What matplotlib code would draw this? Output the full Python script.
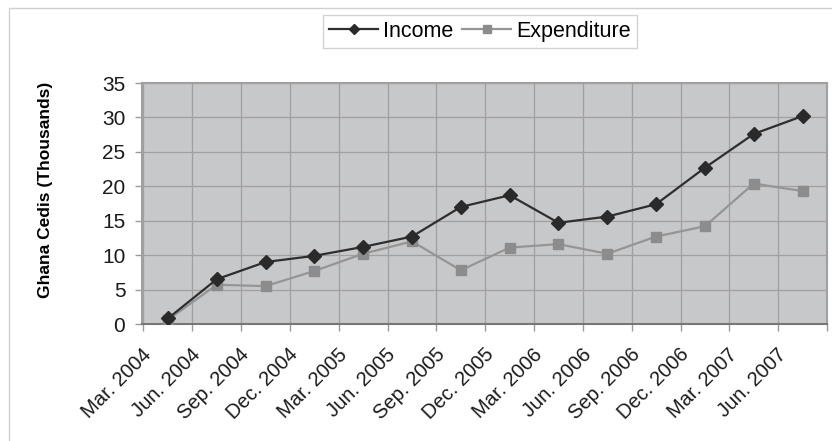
import matplotlib
matplotlib.use("Agg")
import matplotlib.pyplot as plt
import matplotlib.patches as mpatches
import numpy as np

plt.rcParams['font.family'] = ['Liberation Sans', 'DejaVu Sans']

# data
quarters = ['Mar. 2004', 'Jun. 2004', 'Sep. 2004', 'Dec. 2004', 'Mar. 2005',
            'Jun. 2005', 'Sep. 2005', 'Dec. 2005', 'Mar. 2006', 'Jun. 2006',
            'Sep. 2006', 'Dec. 2006', 'Mar. 2007', 'Jun. 2007']
income = [0.8, 6.5, 9.0, 9.9, 11.2, 12.7, 17.0, 18.7, 14.7, 15.6, 17.4, 22.7, 27.6, 30.2]
expenditure = [0.6, 5.7, 5.5, 7.7, 10.2, 12.0, 7.8, 11.1, 11.6, 10.2, 12.7, 14.2, 20.4, 19.3]

W, H = 832, 441
fig = plt.figure(figsize=(W / 100, H / 100), dpi=100)

# outer chart border (light gray)
fig.patches.append(mpatches.Rectangle((9 / W, -0.05), 1.2, 1 - 8 / H + 0.05,
                                      transform=fig.transFigure, fill=False,
                                      edgecolor='#d0d0d0', linewidth=1.0))

ax = fig.add_axes([142 / W, 1 - 324 / H, (827 - 142) / W, (324 - 83) / H])
ax.set_facecolor('#c7c8ca')

x = np.arange(len(quarters)) + 0.5
ax.plot(x, income, color='#2e2e2e', lw=1.6, marker='D', ms=7,
        mfc='#2a2a2a', mec='#2a2a2a', label='Income', zorder=4)
ax.plot(x, expenditure, color='#959595', lw=1.6, marker='s', ms=7.5,
        mfc='#8c8c8c', mec='#8c8c8c', label='Expenditure', zorder=3)

ax.set_xlim(0, len(quarters))
ax.set_ylim(0, 35)
ax.set_yticks(range(0, 36, 5))
ax.set_xticks(range(0, len(quarters) + 1))
ax.set_xticklabels([])
ax.set_xticks(np.arange(len(quarters)) - 0.03, minor=True)
ax.set_xticklabels(quarters, minor=True, rotation=45, ha='right', va='top',
                   rotation_mode='anchor', fontsize=14.5, color='#1a1a1a')
ax.tick_params(axis='x', which='minor', length=0, pad=15)
ax.tick_params(axis='x', which='major', length=5, color='#9a9a9a', width=1)
ax.tick_params(axis='y', length=5, color='#9a9a9a', width=1, labelsize=15,
               labelcolor='#1a1a1a', pad=7)

ax.grid(True, which='major', color='#a0a0a0', lw=0.9)
ax.set_axisbelow(True)
for side in ['top', 'right', 'left']:
    ax.spines[side].set_color('#a0a0a0')
    ax.spines[side].set_linewidth(1.5)
ax.spines['bottom'].set_color('#777777')
ax.spines['bottom'].set_linewidth(1.5)

ax.set_ylabel('Ghana Cedis (Thousands)', fontsize=12.5, fontweight='bold')
ax.yaxis.set_label_coords(-0.130, 0.556)

leg = fig.legend(loc='center', bbox_to_anchor=(480 / W, 1 - 31.5 / H), ncol=2,
                 fontsize=15.5, frameon=True, fancybox=False, edgecolor='#c8c8c8',
                 handlelength=2.26, columnspacing=0.42, handletextpad=0.23,
                 borderpad=0.3, borderaxespad=0, markerscale=0.8)
leg.get_frame().set_linewidth(1.0)

fig.savefig('out.png', dpi=100, facecolor='white')
